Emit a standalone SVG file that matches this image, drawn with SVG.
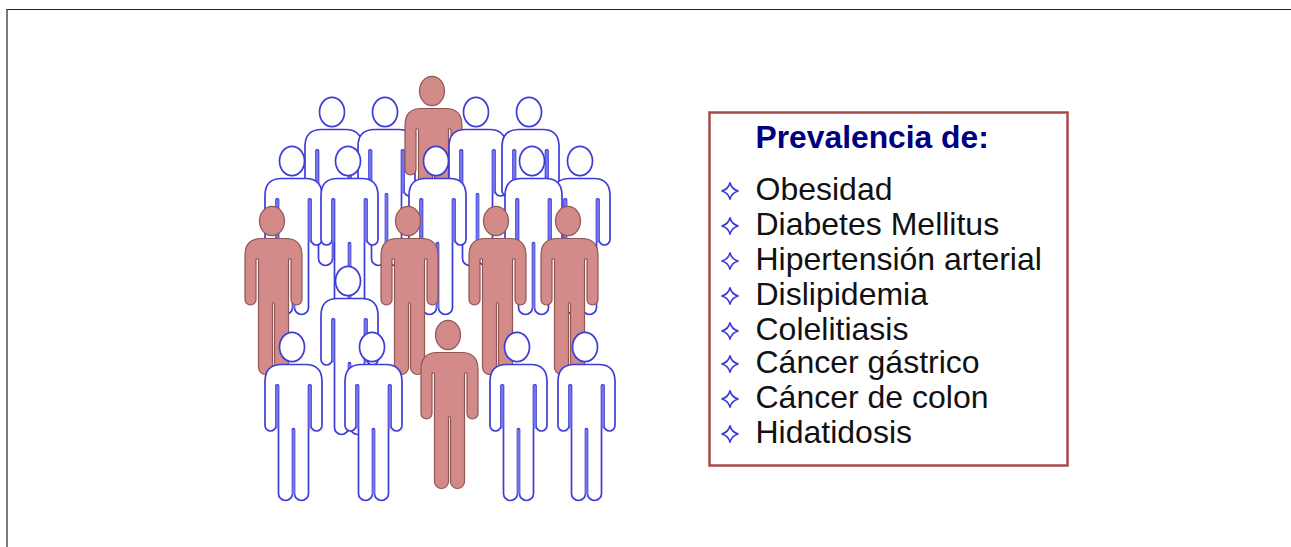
<svg xmlns="http://www.w3.org/2000/svg" width="1291" height="547" viewBox="0 0 1291 547">
<style>
.blue{fill:#fff;stroke:#3c3cd8;stroke-width:1.7;color:#7474ea}
.red{fill:#d28b88;stroke:#8e5553;stroke-width:1.2;color:transparent}
.slot{fill:none;stroke:currentColor;stroke-width:2.600}
.h{font-family:"Liberation Sans",Arial,sans-serif;font-weight:bold;font-size:31.8px;fill:#000080}
.t{font-family:"Liberation Sans",Arial,sans-serif;font-size:32px;fill:#111}
.b{fill:none;stroke:#3c3cd8;stroke-width:1.6}
</style>
<defs>
<g id="person">
<ellipse cx="-1.500" cy="-17.500" rx="12.500" ry="14.700"/>
<path d="M-12 0H12Q28.500 0 28.500 17V61A5.500 5.500 0 0 1 17.500 61V21A1.400 1.400 0 0 0 15 21V129A7 7 0 0 1 1 129V65A1 1 0 0 0-1 65V129A7 7 0 0 1-15 129V21A1.400 1.400 0 0 0-17.500 21V61A5.500 5.500 0 0 1-28.500 61V17Q-28.500 0-12 0Z"/>
<path class="slot" d="M16.250 21V64M-16.250 21V64M0 65V130"/>
</g>
<path id="star" d="M0-8.500Q1.500-1.500 8.500 0Q1.500 1.500 0 8.500Q-1.500 1.500-8.500 0Q-1.500-1.500 0-8.500Z"/>
</defs>
<rect width="1291" height="547" fill="#fff"/>
<path d="M7 547V9.500H1291" fill="none" stroke="#222" stroke-width="1.200"/>
<g id="people">
<g id="p1" class="blue"><use href="#person" x="333.500" y="129.500"/></g>
<g id="p2" class="blue"><use href="#person" x="386.500" y="129.500"/></g>
<g id="p3" class="red"><use href="#person" x="433.500" y="108.500"/></g>
<g id="p4" class="blue"><use href="#person" x="477.500" y="129.500"/></g>
<g id="p5" class="blue"><use href="#person" x="530.500" y="129.500"/></g>
<g id="p6" class="blue"><use href="#person" x="293.500" y="178.500"/></g>
<g id="p7" class="blue"><use href="#person" x="349.500" y="178.500"/></g>
<g id="p8" class="blue"><use href="#person" x="437.500" y="178.500"/></g>
<g id="p9" class="blue"><use href="#person" x="581.500" y="178.500"/></g>
<g id="p10" class="blue"><use href="#person" x="533.500" y="178.500"/></g>
<g id="p11" class="red"><use href="#person" x="273.500" y="238.500"/></g>
<g id="p12" class="red"><use href="#person" x="409.500" y="238.500"/></g>
<g id="p13" class="red"><use href="#person" x="497.500" y="238.500"/></g>
<g id="p14" class="red"><use href="#person" x="569.500" y="238.500"/></g>
<g id="p15" class="blue"><use href="#person" x="349.500" y="298.500"/></g>
<g id="p16" class="blue"><use href="#person" x="293.500" y="364.500"/></g>
<g id="p17" class="blue"><use href="#person" x="373.500" y="364.500"/></g>
<g id="p18" class="red"><use href="#person" x="449.500" y="352.500"/></g>
<g id="p19" class="blue"><use href="#person" x="518.500" y="364.500"/></g>
<g id="p20" class="blue"><use href="#person" x="586.500" y="364.500"/></g>
</g>
<g id="legend">
<rect x="709.500" y="112.500" width="358" height="353" fill="#fff" stroke="#a84a4a" stroke-width="2.500"/>
<text class="h" x="755.500" y="147.500">Prevalencia de:</text>
<use href="#star" class="b" x="730" y="191"/><text class="t" x="755.500" y="200">Obesidad</text>
<use href="#star" class="b" x="730" y="226"/><text class="t" x="755.500" y="235">Diabetes Mellitus</text>
<use href="#star" class="b" x="730" y="261"/><text class="t" x="755.500" y="270">Hipertensión arterial</text>
<use href="#star" class="b" x="730" y="296"/><text class="t" x="755.500" y="305">Dislipidemia</text>
<use href="#star" class="b" x="730" y="331"/><text class="t" x="755.500" y="340">Colelitiasis</text>
<use href="#star" class="b" x="730" y="364"/><text class="t" x="755.500" y="373">Cáncer gástrico</text>
<use href="#star" class="b" x="730" y="399"/><text class="t" x="755.500" y="408">Cáncer de colon</text>
<use href="#star" class="b" x="730" y="434"/><text class="t" x="755.500" y="443">Hidatidosis</text>
</g>
</svg>
